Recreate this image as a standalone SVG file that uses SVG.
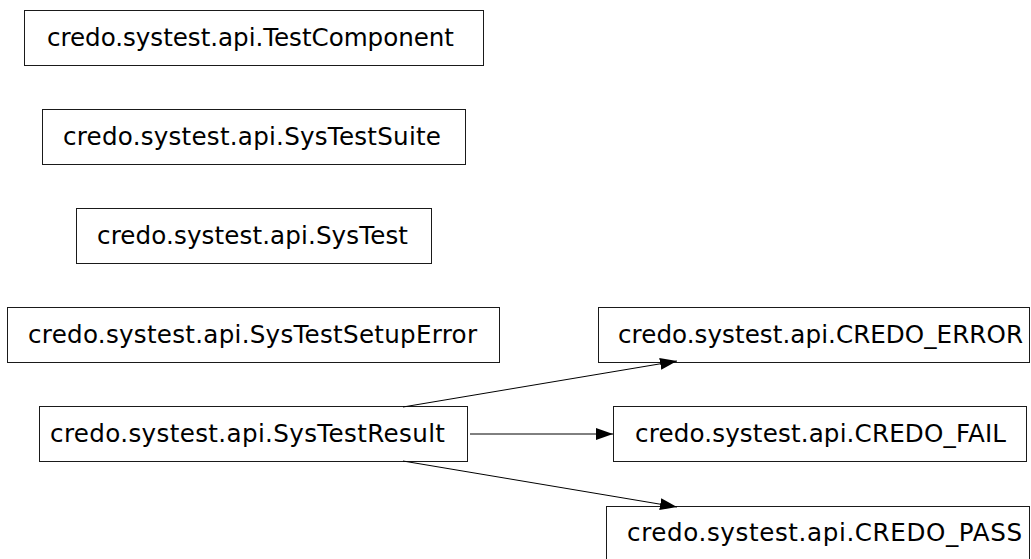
<svg xmlns="http://www.w3.org/2000/svg" width="1031" height="559" viewBox="0 0 1031 559">
  <style>
    .node rect { fill: #ffffff; stroke: #1a1a1a; stroke-width: 1; }
    .node text { font-family: "DejaVu Sans", sans-serif; font-size: 24.6px; fill: #000000; text-anchor: middle; }
    .edge { fill: none; stroke: #000000; stroke-width: 1; marker-end: url(#arrow); }
  </style>
  <defs>
    <marker id="arrow" markerUnits="userSpaceOnUse" markerWidth="17" markerHeight="12" refX="17" refY="6" orient="auto">
      <path d="M0,0 L17,6 L0,12 Z" fill="#000000"/>
    </marker>
  </defs>
  <rect width="1031" height="559" fill="#ffffff"/>

  <g id="TestComponent" class="node">
    <rect x="24.5" y="10.5" width="459" height="55"/>
    <text x="250.5" y="46" textLength="407" lengthAdjust="spacing">credo.systest.api.TestComponent</text>
  </g>
  <g id="SysTestSuite" class="node">
    <rect x="42.5" y="109.5" width="423" height="55"/>
    <text x="252" y="145" textLength="378" lengthAdjust="spacing">credo.systest.api.SysTestSuite</text>
  </g>
  <g id="SysTest" class="node">
    <rect x="76.5" y="208.5" width="355" height="55"/>
    <text x="252.5" y="244" textLength="311" lengthAdjust="spacing">credo.systest.api.SysTest</text>
  </g>
  <g id="SysTestSetupError" class="node">
    <rect x="7.5" y="307.5" width="492" height="55"/>
    <text x="252.5" y="343" textLength="449" lengthAdjust="spacing">credo.systest.api.SysTestSetupError</text>
  </g>
  <g id="SysTestResult" class="node">
    <rect x="39.5" y="406.5" width="428" height="55"/>
    <text x="247.5" y="442" textLength="395" lengthAdjust="spacing">credo.systest.api.SysTestResult</text>
  </g>
  <g id="CREDO_ERROR" class="node">
    <rect x="598.5" y="307.5" width="431" height="55"/>
    <text x="820.5" y="343" textLength="405" lengthAdjust="spacing">credo.systest.api.CREDO_ERROR</text>
  </g>
  <g id="CREDO_FAIL" class="node">
    <rect x="613.5" y="406.5" width="413" height="55"/>
    <text x="820.5" y="442" textLength="371" lengthAdjust="spacing">credo.systest.api.CREDO_FAIL</text>
  </g>
  <g id="CREDO_PASS" class="node">
    <rect x="606.5" y="506.5" width="423" height="55"/>
    <text x="824.5" y="541" textLength="395" lengthAdjust="spacing">credo.systest.api.CREDO_PASS</text>
  </g>

  <g id="connectors">
    <path class="edge" d="M403,407 L677,361"/>
    <path class="edge" d="M470,434 L613,434"/>
    <path class="edge" d="M403,461 L677,507"/>
  </g>
</svg>
